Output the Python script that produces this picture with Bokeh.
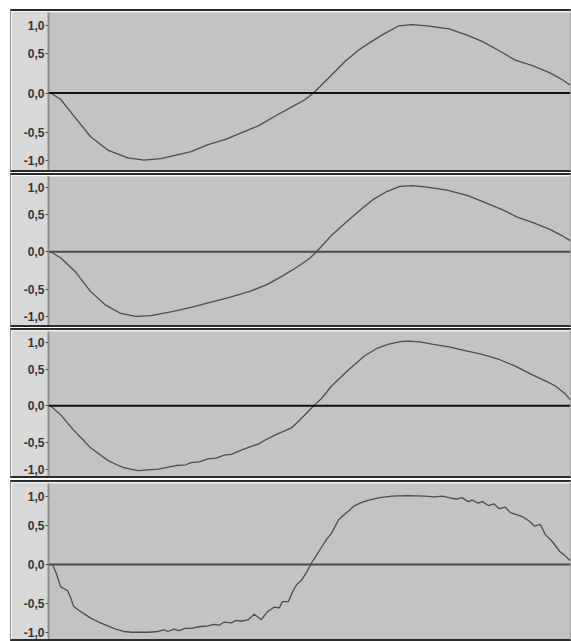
from bokeh.plotting import figure
from bokeh.layouts import column
from bokeh.models import FixedTicker, Span
from bokeh.embed import file_html
from bokeh.resources import INLINE

# amplitude axis ticks
y_ticks = [-1.0, -0.5, 0.0, 0.5, 1.0]
y_tick_labels = ["-1,0", "-0,5", "0,0", "0,5", "1,0"]

# track 1
s1 = [0, 10, 23, 40, 57, 77, 93, 110, 123, 140, 157, 175, 190, 207, 223, 240, 253, 262,
      280, 293, 307, 320, 330, 347, 360, 375, 397, 415, 430, 447, 463, 480, 497, 510, 521]
v1 = [0.0, -0.08, -0.29, -0.56, -0.73, -0.83, -0.86, -0.84, -0.80, -0.75, -0.66, -0.59,
      -0.51, -0.42, -0.30, -0.18, -0.09, 0.0, 0.23, 0.40, 0.55, 0.66, 0.74, 0.86, 0.875,
      0.86, 0.82, 0.74, 0.66, 0.54, 0.42, 0.35, 0.26, 0.17, 0.07]

# track 2
s2 = [0, 10, 25, 40, 55, 70, 85, 100, 120, 140, 160, 180, 200, 215, 230, 245, 258, 265,
      280, 295, 310, 322, 335, 348, 360, 375, 395, 415, 430, 450, 465, 480, 497, 510, 521]
v2 = [0.0, -0.08, -0.27, -0.53, -0.71, -0.82, -0.86, -0.85, -0.80, -0.74, -0.67, -0.60,
      -0.52, -0.44, -0.33, -0.21, -0.09, 0.0, 0.22, 0.40, 0.57, 0.70, 0.80, 0.87, 0.88,
      0.86, 0.82, 0.75, 0.67, 0.56, 0.46, 0.39, 0.30, 0.21, 0.12]

# track 3
s3 = [0, 10, 23, 33, 40, 50, 57, 66, 73, 80, 87, 97, 107, 115, 125, 135, 140, 148, 157,
      165, 173, 180, 190, 200, 207, 213, 223, 235, 240, 247, 255, 262, 270, 280, 297, 313,
      325, 337, 350, 357, 368, 380, 397, 413, 430, 447, 463, 480, 493, 503, 513, 521]
v3 = [0.0, -0.12, -0.33, -0.47, -0.57, -0.67, -0.74, -0.80, -0.84, -0.86, -0.88, -0.87,
      -0.86, -0.84, -0.81, -0.80, -0.77, -0.76, -0.72, -0.71, -0.67, -0.66, -0.60, -0.55,
      -0.52, -0.47, -0.40, -0.33, -0.30, -0.21, -0.10, 0.0, 0.10, 0.27, 0.49, 0.68,
      0.78, 0.84, 0.875, 0.88, 0.87, 0.84, 0.80, 0.75, 0.70, 0.63, 0.54, 0.42, 0.34,
      0.27, 0.16, 0.03]

# track 4
s4 = [2, 6, 10, 14, 17, 20, 23, 28, 34, 40, 48, 57, 65, 73, 81, 90, 98, 107, 113, 117,
      123, 128, 134, 140, 148, 157, 163, 168, 173, 180, 185, 190, 197, 203, 210, 216, 223,
      228, 231, 237, 241, 245, 250, 255, 260, 265, 270, 275, 280, 287, 293, 297, 303, 310,
      317, 328, 340, 355, 373, 383, 390, 397, 405, 410, 416, 420, 426, 430, 436, 442, 447,
      453, 458, 465, 470, 477, 482, 488, 493, 500, 507, 512, 516, 521]
v4 = [0.0, -0.12, -0.28, -0.31, -0.33, -0.42, -0.53, -0.58, -0.63, -0.68, -0.73, -0.78,
      -0.82, -0.85, -0.86, -0.86, -0.86, -0.85, -0.83, -0.85, -0.82, -0.84, -0.81, -0.81,
      -0.79, -0.78, -0.76, -0.77, -0.73, -0.74, -0.71, -0.72, -0.70, -0.63, -0.70, -0.60,
      -0.54, -0.55, -0.47, -0.47, -0.35, -0.26, -0.20, -0.10, 0.02, 0.12, 0.22, 0.32,
      0.40, 0.57, 0.64, 0.68, 0.75, 0.79, 0.82, 0.85, 0.87, 0.875, 0.87, 0.86, 0.87, 0.85,
      0.83, 0.85, 0.80, 0.82, 0.78, 0.80, 0.75, 0.77, 0.71, 0.73, 0.66, 0.63, 0.61, 0.55,
      0.49, 0.51, 0.38, 0.29, 0.17, 0.12, 0.07, 0.02]

tracks = [(s1, v1), (s2, v2), (s3, v3), (s4, v4)]
y_ranges = [(-1.03, 1.03), (-1.02, 1.0), (-1.0, 1.01), (-0.99, 1.03)]
heights = [163, 154, 150, 161]
tops = [9, 1, 1, 2]
zero_colors = ["#111111", "#4a4a4a", "#111111", "#4a4a4a"]

tick_pos = [t * 0.86 if abs(t) == 1.0 else t for t in y_ticks]
overrides = {p: lab for p, lab in zip(tick_pos, y_tick_labels)}

figs = []
for i, (s, v) in enumerate(tracks):
    p = figure(width=561, height=heights[i], x_range=(-2, 520), y_range=y_ranges[i],
               output_backend="svg", toolbar_location=None,
               min_border_left=37, min_border_right=0, min_border_top=1, min_border_bottom=1,
               background_fill_color="#c3c3c3", border_fill_color="#d8d8d8",
               outline_line_color=None, margin=(tops[i], 0, 0, 10),
               styles={"border-top": "2px solid #2b2b2b", "border-bottom": "2px solid #2b2b2b",
                       "border-left": "1px solid #8c8c8c", "border-right": "1px solid #a8a8a8"})
    p.xaxis.visible = False
    p.grid.visible = False
    p.yaxis.ticker = FixedTicker(ticks=tick_pos, minor_ticks=[])
    p.yaxis.major_label_overrides = overrides
    p.yaxis.major_label_text_font = "Liberation Sans"
    p.yaxis.major_label_text_font_style = "bold"
    p.yaxis.major_label_text_font_size = "12px"
    p.yaxis.major_label_text_color = "#333333"
    p.yaxis.major_tick_out = 3
    p.yaxis.major_tick_in = 0
    p.yaxis.major_tick_line_color = "#555555"
    p.yaxis.major_label_standoff = 1
    p.yaxis.axis_line_color = "#8f8f8f"
    p.yaxis.axis_line_width = 2
    p.add_layout(Span(location=0, dimension="width", line_color=zero_colors[i], line_width=2))
    p.line(s, v, line_color="#4d4d4d", line_width=1.3)
    figs.append(p)

layout = column(*figs, spacing=0, margin=0)
open("out.html", "w").write(file_html(layout, INLINE))
